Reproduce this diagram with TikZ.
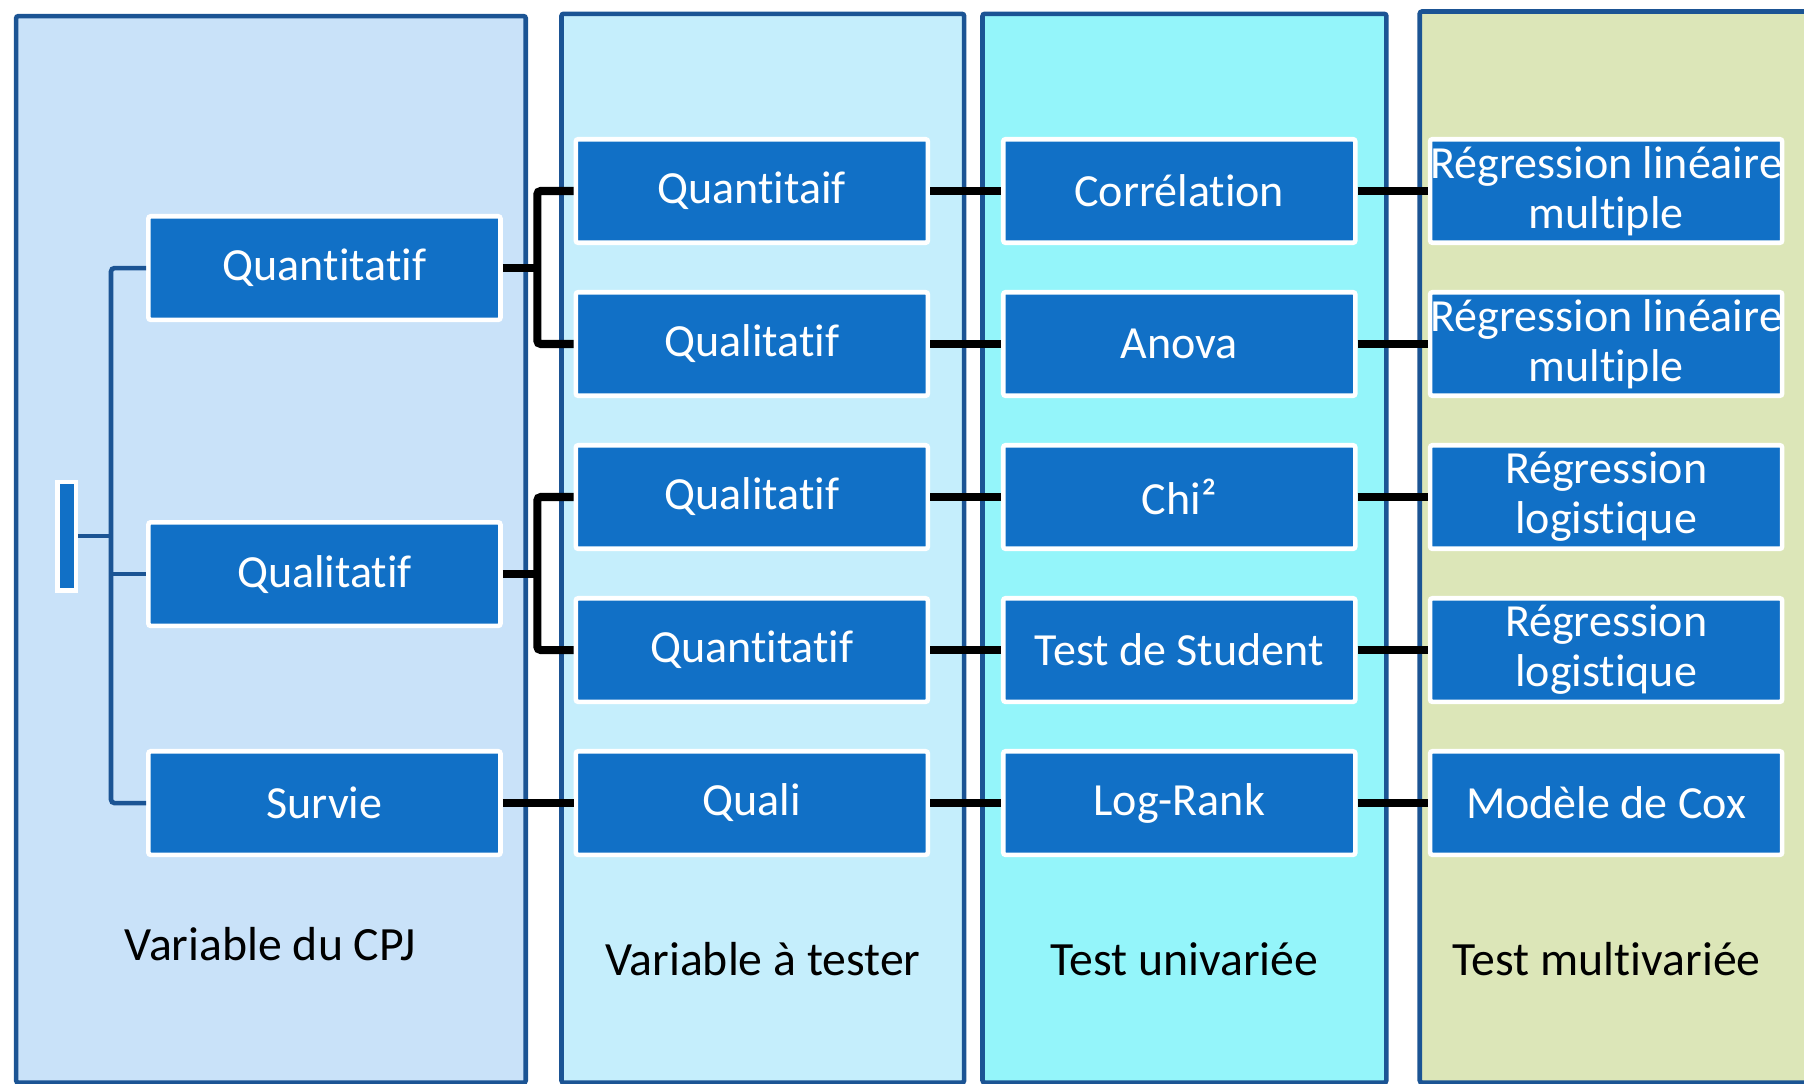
\documentclass[tikz,border=0pt]{standalone}
\usepackage{fontspec}
\setmainfont{Carlito}[Ligatures=NoCommon]
\definecolor{colborder}{HTML}{1B5494}
\definecolor{cpjfill}{HTML}{C9E2F9}
\definecolor{varfill}{HTML}{C5EEFC}
\definecolor{unifill}{HTML}{94F5FA}
\definecolor{multifill}{HTML}{DCE6B8}
\definecolor{boxblue}{HTML}{1170C6}
\begin{document}
\begin{tikzpicture}[x=1pt,y=-1pt,
  colpanel/.style={draw=colborder, line width=4pt, rounded corners=2pt},
  vbox/.style={draw=white, line width=4pt, fill=boxblue, rounded corners=2pt,
    minimum width=306pt, minimum height=90pt, inner sep=0pt, text=white,
    font=\fontsize{40}{43.5}\selectfont, align=center},
  link/.style={line width=7pt, black, rounded corners=3pt},
  tree/.style={line width=4pt, colborder, rounded corners=3pt},
  collabel/.style={font=\fontsize{41.5}{46}\selectfont, text=black}
]
\useasboundingbox (0,0) rectangle (1568,942);
\clip (0,0) rectangle (1568,942);

% column panels
\draw[colpanel, fill=cpjfill]   (14,14)   rectangle (457,941);
\draw[colpanel, fill=varfill]   (488,12)  rectangle (838,941);
\draw[colpanel, fill=unifill]   (854,12)  rectangle (1205,941);
\draw[colpanel, fill=multifill] (1234,10) rectangle (1600,941);

% root marker
\node[draw=white, line width=4pt, fill=boxblue, minimum width=16pt,
      minimum height=94pt, inner sep=0pt] (root) at (58,466) {};

% variable du CPJ
\node[vbox] (c1a) at (282,233) {Quantitatif};
\node[vbox] (c1b) at (282,499) {Qualitatif};
\node[vbox] (c1c) at (282,698) {Survie};

% variable a tester
\node[vbox] (c2a) at (653.5,166) {Quantitaif};
\node[vbox] (c2b) at (653.5,299) {Qualitatif};
\node[vbox] (c2c) at (653.5,432) {Qualitatif};
\node[vbox] (c2d) at (653.5,565) {Quantitatif};
\node[vbox] (c2e) at (653.5,698) {Quali};

% test univariee
\node[vbox] (c3a) at (1025,166) {Corrélation};
\node[vbox] (c3b) at (1025,299) {Anova};
\node[vbox] (c3c) at (1025,432) {Chi²};
\node[vbox] (c3d) at (1025,565) {Test de Student};
\node[vbox] (c3e) at (1025,698) {Log-Rank};

% test multivariee
\node[vbox] (c4a) at (1396,166) {Régression linéaire\\multiple};
\node[vbox] (c4b) at (1396,299) {Régression linéaire\\multiple};
\node[vbox] (c4c) at (1396,432) {Régression\\logistique};
\node[vbox] (c4d) at (1396,565) {Régression\\logistique};
\node[vbox] (c4e) at (1396,698) {Modèle de Cox};

% column captions
\node[collabel] (l1) at (235,821) {Variable du CPJ};
\node[collabel] (l2) at (663,834) {Variable à tester};
\node[collabel] (l3) at (1029.5,834) {Test univariée};
\node[collabel] (l4) at (1396.5,834) {Test multivariée};

% tree from the root marker
\coordinate (tj) at (96.5,466);
\draw[tree] (root.east) -- (tj);
\draw[tree] (c1a.west) -- (c1a.west -| tj) -- (c1c.west -| tj) -- (c1c.west);
\draw[tree] (c1b.west -| tj) -- (c1b.west);

% brackets to the tested variables
\coordinate (bx) at (467,0);
\draw[link] (c2a.west) -- (c2a.west -| bx) -- (c2b.west -| bx) -- (c2b.west);
\draw[link] (c1a.east) -- (c1a.east -| bx);
\draw[link] (c2c.west) -- (c2c.west -| bx) -- (c2d.west -| bx) -- (c2d.west);
\draw[link] (c1b.east) -- (c1b.east -| bx);
\draw[link] (c1c.east) -- (c2e.west);

% straight links between columns
\foreach \r in {a,b,c,d,e}{
  \draw[link] (c2\r.east) -- (c3\r.west);
  \draw[link] (c3\r.east) -- (c4\r.west);
}
\end{tikzpicture}
\end{document}
